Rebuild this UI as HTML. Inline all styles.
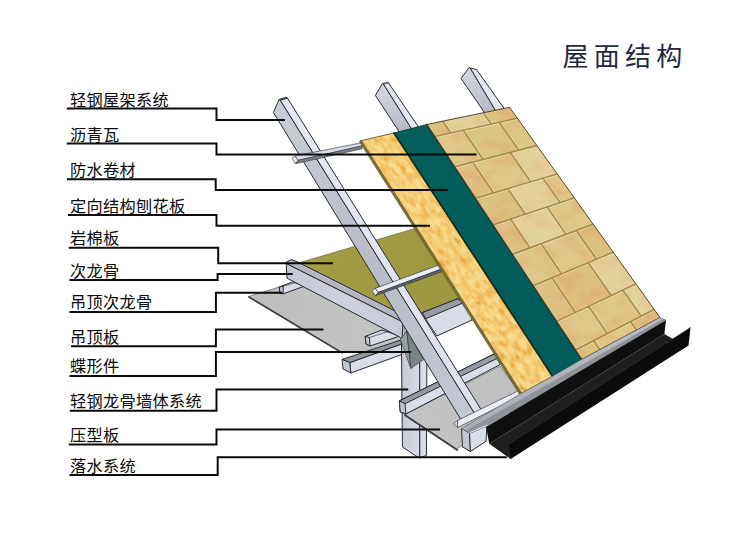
<!DOCTYPE html>
<html lang="zh-CN">
<head>
<meta charset="utf-8">
<title>屋面结构</title>
<style>
html,body{margin:0;padding:0;background:#fff;}
body{width:750px;height:539px;overflow:hidden;font-family:"Liberation Sans",sans-serif;}
svg{display:block;}
</style>
</head>
<body>
<svg width="750" height="539" viewBox="0 0 750 539" role="img" aria-label="屋面结构">
<defs>
<filter id="osbtex" x="0" y="0" width="100%" height="100%" color-interpolation-filters="sRGB">
<feTurbulence type="fractalNoise" baseFrequency="0.2 0.1" numOctaves="3" seed="23" result="n"/>
<feColorMatrix in="n" type="matrix" values="0 0 0 0 0.975  0 0 0 0 0.86  0 0 0 0 0.56  3.0 0 0 0 -1.0" result="lt"/>
<feColorMatrix in="n" type="matrix" values="0 0 0 0 0.90  0 0 0 0 0.62  0 0 0 0 0.20  0 2.8 0 0 -1.4" result="dk"/>
<feMerge result="m"><feMergeNode in="SourceGraphic"/><feMergeNode in="dk"/><feMergeNode in="lt"/></feMerge>
<feComposite in="m" in2="SourceGraphic" operator="in"/>
</filter>
<filter id="stonetex" x="0" y="0" width="100%" height="100%" color-interpolation-filters="sRGB">
<feTurbulence type="fractalNoise" baseFrequency="0.05 0.07" numOctaves="4" seed="5" result="n"/>
<feColorMatrix in="n" type="matrix" values="0 0 0 0 0.88  0 0 0 0 0.64  0 0 0 0 0.42  3.0 0 0 0 -1.3" result="pk"/>
<feColorMatrix in="n" type="matrix" values="0 0 0 0 0.84  0 0 0 0 0.79  0 0 0 0 0.50  0 0 2.4 0 -1.1" result="lt"/>
<feMerge result="m"><feMergeNode in="SourceGraphic"/><feMergeNode in="lt"/><feMergeNode in="pk"/></feMerge>
<feComposite in="m" in2="SourceGraphic" operator="in"/>
</filter>
<linearGradient id="g1" gradientUnits="userSpaceOnUse" x1="250.0" y1="300.0" x2="400.0" y2="330.0"><stop offset="0" stop-color="#bebebe"/><stop offset="1" stop-color="#c4c4c4"/></linearGradient>
<linearGradient id="g2" gradientUnits="userSpaceOnUse" x1="310.0" y1="262.0" x2="440.0" y2="300.0"><stop offset="0" stop-color="#a39c47"/><stop offset="1" stop-color="#9f9843"/></linearGradient>
<linearGradient id="g3" gradientUnits="userSpaceOnUse" x1="402.0" y1="340.0" x2="420.0" y2="340.0"><stop offset="0" stop-color="#c6cad5"/><stop offset="1" stop-color="#d9dce5"/></linearGradient>
<linearGradient id="g4" gradientUnits="userSpaceOnUse" x1="410.0" y1="420.0" x2="510.0" y2="380.0"><stop offset="0" stop-color="#c3c3c3"/><stop offset="1" stop-color="#c0c0c0"/></linearGradient>
<linearGradient id="g5" gradientUnits="userSpaceOnUse" x1="286.0" y1="270.0" x2="402.0" y2="330.0"><stop offset="0" stop-color="#c3c7d3"/><stop offset="0.5" stop-color="#cdd1dc"/><stop offset="1" stop-color="#c6cad6"/></linearGradient>
<linearGradient id="g6" gradientUnits="userSpaceOnUse" x1="273.4" y1="112.4" x2="461.2" y2="420.0"><stop offset="0" stop-color="#c9cdd7"/><stop offset="0.5" stop-color="#b7bcc8"/><stop offset="1" stop-color="#c4c8d3"/></linearGradient>
<linearGradient id="g7" gradientUnits="userSpaceOnUse" x1="287.4" y1="98.0" x2="482.0" y2="411.0"><stop offset="0" stop-color="#e6e9f2"/><stop offset="1" stop-color="#dde0ea"/></linearGradient>
<linearGradient id="g8" gradientUnits="userSpaceOnUse" x1="376.0" y1="90.0" x2="400.0" y2="130.0"><stop offset="0" stop-color="#d3d6df"/><stop offset="1" stop-color="#b8bcc8"/></linearGradient>
<linearGradient id="g9" gradientUnits="userSpaceOnUse" x1="388.0" y1="83.0" x2="418.0" y2="127.0"><stop offset="0" stop-color="#dfe4f0"/><stop offset="1" stop-color="#e8eaf2"/></linearGradient>
<linearGradient id="g10" gradientUnits="userSpaceOnUse" x1="462.0" y1="72.0" x2="485.0" y2="112.0"><stop offset="0" stop-color="#d3d6df"/><stop offset="1" stop-color="#b8bcc8"/></linearGradient>
<linearGradient id="g11" gradientUnits="userSpaceOnUse" x1="476.0" y1="70.0" x2="503.0" y2="108.0"><stop offset="0" stop-color="#dfe4f0"/><stop offset="1" stop-color="#e8eaf2"/></linearGradient>
<clipPath id="osbclip"><polygon points="360.7,140.7 394.0,133.0 552.5,376.3 521.0,393.5"/></clipPath>
<linearGradient id="g12" gradientUnits="userSpaceOnUse" x1="394.0" y1="133.0" x2="552.5" y2="376.3"><stop offset="0" stop-color="#045e5c"/><stop offset="1" stop-color="#025b5a"/></linearGradient>
<clipPath id="shclip"><polygon points="426.5,124.5 509.5,107.3 660.0,317.5 581.5,359.5"/></clipPath>
<linearGradient id="g13" gradientUnits="userSpaceOnUse" x1="470.0" y1="430.0" x2="660.0" y2="320.0"><stop offset="0" stop-color="#a9adb4"/><stop offset="1" stop-color="#b9bdc5"/></linearGradient>
</defs>
<rect width="750" height="539" fill="#ffffff"/>
<g id="illustration" style="filter:blur(0.3px)">
<g id="ceiling-board">
<polygon points="248.8,296.5 300.0,280.5 405.0,325.0 405.0,352.0 342.0,352.3" fill="url(#g1)" stroke="#262a31" stroke-width="0.5" stroke-linejoin="round" />
<line x1="248.8" y1="297.0" x2="342.0" y2="352.9" stroke="#3c3f44" stroke-width="1.6" stroke-linecap="round" />
</g>
<g id="rockwool">
<polygon points="299.0,262.8 415.0,228.5 462.0,297.5 422.4,312.6 405.0,320.0 398.0,316.0" fill="url(#g2)" stroke="#5d5a30" stroke-width="0.6" stroke-linejoin="round" />
</g>
<g id="ceil-keels">
<polygon points="279.2,287.0 292.8,281.8 305.0,286.0 283.2,293.8 280.0,293.0" fill="#d9dde7" stroke="#262a31" stroke-width="1.0" stroke-linejoin="round" />
<polygon points="279.2,287.0 283.2,286.3 283.2,293.8 280.0,293.0" fill="#c2c6d2" stroke="#262a31" stroke-width="1.0" stroke-linejoin="round" />
<line x1="283.2" y1="286.3" x2="297.0" y2="282.0" stroke="#262a31" stroke-width="0.6" stroke-linecap="round" />
<polygon points="365.2,336.4 382.0,330.0 400.0,336.0 370.0,346.0 366.0,344.0" fill="#d9dde7" stroke="#262a31" stroke-width="1.0" stroke-linejoin="round" />
<polygon points="365.2,336.4 369.5,337.5 370.0,346.0 366.0,344.0" fill="#c2c6d2" stroke="#262a31" stroke-width="1.0" stroke-linejoin="round" />
<line x1="369.5" y1="337.5" x2="388.0" y2="331.5" stroke="#262a31" stroke-width="0.6" stroke-linecap="round" />
<polygon points="349.8,362.6 401.5,344.0 401.5,354.6 350.8,373.0" fill="#d9dde7" stroke="#262a31" stroke-width="1.0" stroke-linejoin="round" />
<polygon points="342.0,359.4 401.5,339.8 401.5,344.0 349.8,362.6" fill="#90949b" stroke="#262a31" stroke-width="1.0" stroke-linejoin="round" />
<polygon points="342.0,359.4 349.8,362.6 350.8,373.0 343.0,369.0" fill="#c2c6d2" stroke="#262a31" stroke-width="1.0" stroke-linejoin="round" />
</g>
<g id="wall">
<polygon points="401.4,338.0 419.7,338.0 419.8,458.0 416.0,456.0 402.4,447.0" fill="url(#g3)" stroke="#262a31" stroke-width="1.0" stroke-linejoin="round" />
<polygon points="419.7,338.0 427.0,335.0 426.4,455.4 419.8,458.0" fill="#d9dde7" stroke="#262a31" stroke-width="1.0" stroke-linejoin="round" />
<polygon points="405.0,414.5 500.0,366.0 522.0,395.0 461.9,444.7 457.2,449.4" fill="url(#g4)" stroke="#262a31" stroke-width="0.5" stroke-linejoin="round" />
<line x1="405.0" y1="415.2" x2="457.2" y2="450.0" stroke="#3c3f44" stroke-width="1.7" stroke-linecap="round" />
<polygon points="422.4,312.6 457.6,298.8 472.0,301.0 472.0,320.0 436.8,336.0 425.6,318.8" fill="#d9dde7" stroke="#262a31" stroke-width="1.0" stroke-linejoin="round" />
<polygon points="422.4,312.6 457.6,298.8 464.0,302.5 425.6,318.8" fill="#979ba3" stroke="#262a31" stroke-width="1.0" stroke-linejoin="round" />
<polygon points="399.3,400.9 494.0,354.0 500.4,364.4 405.9,414.0 400.3,412.0" fill="#d9dde7" stroke="#262a31" stroke-width="1.0" stroke-linejoin="round" />
<polygon points="399.3,400.9 494.0,354.0 498.0,358.0 405.0,403.7" fill="#979ba3" stroke="#262a31" stroke-width="1.0" stroke-linejoin="round" />
<polygon points="399.3,400.9 405.0,403.7 405.9,414.0 400.3,412.0" fill="#c2c6d2" stroke="#262a31" stroke-width="1.0" stroke-linejoin="round" />
</g>
<g id="sec-keel">
<polygon points="286.2,263.4 399.8,320.4 403.0,322.0 402.0,339.5 400.0,337.2 287.0,278.2" fill="url(#g5)" stroke="#262a31" stroke-width="1.0" stroke-linejoin="round" />
<polygon points="285.6,262.6 291.2,259.6 296.0,261.2 396.0,311.4 404.0,320.6 399.8,320.4 286.2,263.4" fill="#b2b6be" stroke="#262a31" stroke-width="1.0" stroke-linejoin="round" />
</g>
<g id="rafters">
<polygon points="279.1,99.4 280.2,100.0 475.6,415.0 461.2,420.0 273.4,112.4" fill="url(#g6)" stroke="#262a31" stroke-width="1.0" stroke-linejoin="round" />
<polygon points="280.2,100.0 287.4,98.0 482.0,411.0 475.6,415.0" fill="url(#g7)" stroke="#262a31" stroke-width="1.0" stroke-linejoin="round" />
<polygon points="279.1,99.4 285.5,97.4 287.4,98.0 280.2,100.0" fill="#c2c6d2" stroke="#262a31" stroke-width="1.0" stroke-linejoin="round" />
<polygon points="382.4,83.4 383.4,84.0 413.0,131.0 400.0,133.0 375.4,95.4" fill="url(#g8)" stroke="#262a31" stroke-width="1.0" stroke-linejoin="round" />
<polygon points="383.4,84.0 388.4,82.7 420.5,130.0 413.0,131.0" fill="url(#g9)" stroke="#262a31" stroke-width="1.0" stroke-linejoin="round" />
<polygon points="382.4,83.4 387.4,82.2 388.4,82.7 383.4,84.0" fill="#c2c6d2" stroke="#262a31" stroke-width="0.5" stroke-linejoin="round" />
<polygon points="469.0,67.6 470.2,68.0 497.0,113.0 485.5,114.0 461.0,78.5" fill="url(#g10)" stroke="#262a31" stroke-width="1.0" stroke-linejoin="round" />
<polygon points="470.2,68.0 476.5,69.5 506.0,111.0 497.0,113.0" fill="url(#g11)" stroke="#262a31" stroke-width="1.0" stroke-linejoin="round" />
</g>
<g id="purlins">
<polygon points="294.7,156.0 362.0,142.7 362.0,146.0 298.0,160.3" fill="#d9dde7" stroke="#262a31" stroke-width="0.6" stroke-linejoin="round" />
<polygon points="298.0,160.3 362.0,146.0 362.0,148.8 295.4,163.7" fill="#7d838d" stroke="#262a31" stroke-width="0.6" stroke-linejoin="round" />
<polygon points="292.0,158.4 294.7,156.0 298.0,160.3 295.4,163.7" fill="#eceef5" stroke="#262a31" stroke-width="0.6" stroke-linejoin="round" />
<polygon points="375.1,288.4 445.0,262.8 447.0,267.0 378.1,292.5" fill="#eceef5" stroke="#262a31" stroke-width="0.6" stroke-linejoin="round" />
<polygon points="378.1,292.5 447.0,267.0 448.0,269.5 375.7,295.6" fill="#5d626b" stroke="#262a31" stroke-width="0.6" stroke-linejoin="round" />
<polygon points="372.1,291.0 375.1,288.4 378.1,292.5 375.7,295.6" fill="#eceef5" stroke="#262a31" stroke-width="0.6" stroke-linejoin="round" />
<polygon points="457.6,420.4 522.0,389.0 524.0,394.0 457.6,427.6" fill="#eceef5" stroke="#262a31" stroke-width="0.6" stroke-linejoin="round" />
<polygon points="453.6,423.6 457.6,420.4 457.6,427.6" fill="#d9dde7" stroke="#262a31" stroke-width="0.6" stroke-linejoin="round" />
</g>
<g id="fascia">
<polygon points="461.6,428.4 469.6,433.2 470.4,451.6 462.4,446.8" fill="#c2c6d2" stroke="#262a31" stroke-width="1.0" stroke-linejoin="round" />
<polygon points="469.6,433.2 487.0,425.5 486.0,441.2 470.4,451.6" fill="#d9dde7" stroke="#262a31" stroke-width="1.0" stroke-linejoin="round" />
</g>
<g id="roof">
<g clip-path="url(#osbclip)"><rect x="-60" y="-340" width="120" height="680" transform="translate(455,262) rotate(-33)" fill="#f0c062" filter="url(#osbtex)"/></g>
<polygon points="360.7,140.7 394.0,133.0 552.5,376.3 521.0,393.5" fill="none" stroke="#6b5a22" stroke-width="0.9" stroke-linejoin="round" />
<polygon points="359.3,141.6 519.6,394.4 521.6,393.1 361.3,140.3" fill="#80702f" stroke="#4f451c" stroke-width="0.5" stroke-linejoin="round" />
<polygon points="394.0,133.0 426.5,124.5 581.5,359.5 552.5,376.3" fill="url(#g12)" stroke="#083833" stroke-width="0.8" stroke-linejoin="round" />
<g clip-path="url(#shclip)">
<rect x="420" y="100" width="250" height="265" fill="#dfc689" filter="url(#stonetex)"/>
<polygon points="426.5,124.5 442.8,121.1 450.8,132.9 434.4,136.6" fill="#ddbd79" fill-opacity="0.6"/>
<polygon points="442.8,121.1 483.3,112.7 491.2,124.0 450.8,132.9" fill="#e6d8a6" fill-opacity="0.6"/>
<polygon points="483.3,112.7 509.5,107.3 517.3,118.2 491.2,124.0" fill="#ddbd79" fill-opacity="0.6"/>
<polygon points="434.4,136.6 463.2,130.2 483.0,159.4 454.4,166.8" fill="#dfc88c" fill-opacity="0.6"/>
<polygon points="463.2,130.2 499.1,122.2 518.8,150.2 483.0,159.4" fill="#d9c484" fill-opacity="0.6"/>
<polygon points="499.1,122.2 517.3,118.2 536.9,145.5 518.8,150.2" fill="#dfc88c" fill-opacity="0.6"/>
<polygon points="454.4,166.8 472.7,162.1 493.5,192.9 475.2,198.4" fill="#e0ba82" fill-opacity="0.6"/>
<polygon points="472.7,162.1 510.2,152.4 530.8,181.8 493.5,192.9" fill="#dfc88c" fill-opacity="0.6"/>
<polygon points="510.2,152.4 536.9,145.5 557.2,173.9 530.8,181.8" fill="#e6d8a6" fill-opacity="0.6"/>
<polygon points="475.2,198.4 507.8,188.6 525.3,214.2 492.8,225.0" fill="#ddbd79" fill-opacity="0.6"/>
<polygon points="507.8,188.6 542.9,178.2 560.1,202.6 525.3,214.2" fill="#e6d8a6" fill-opacity="0.6"/>
<polygon points="542.9,178.2 557.2,173.9 574.3,197.8 560.1,202.6" fill="#dfc88c" fill-opacity="0.6"/>
<polygon points="492.8,225.0 510.7,219.1 530.0,247.8 512.2,254.5" fill="#e0ba82" fill-opacity="0.6"/>
<polygon points="510.7,219.1 547.1,206.9 566.1,234.3 530.0,247.8" fill="#e6d8a6" fill-opacity="0.6"/>
<polygon points="547.1,206.9 574.3,197.8 593.2,224.2 566.1,234.3" fill="#dfc88c" fill-opacity="0.6"/>
<polygon points="512.2,254.5 541.2,243.6 561.7,273.8 532.9,285.9" fill="#dfc88c" fill-opacity="0.6"/>
<polygon points="541.2,243.6 576.4,230.5 596.6,259.2 561.7,273.8" fill="#dfc88c" fill-opacity="0.6"/>
<polygon points="576.4,230.5 593.2,224.2 613.2,252.2 596.6,259.2" fill="#ddbd79" fill-opacity="0.6"/>
<polygon points="532.9,285.9 552.2,277.8 575.4,312.4 556.4,321.5" fill="#e0ba82" fill-opacity="0.6"/>
<polygon points="552.2,277.8 588.3,262.6 611.2,295.5 575.4,312.4" fill="#ddbd79" fill-opacity="0.6"/>
<polygon points="588.3,262.6 613.2,252.2 635.9,283.8 611.2,295.5" fill="#e6d8a6" fill-opacity="0.6"/>
<polygon points="556.4,321.5 588.6,306.2 607.3,333.6 575.4,350.2" fill="#dfc88c" fill-opacity="0.6"/>
<polygon points="588.6,306.2 622.8,290.0 641.2,316.0 607.3,333.6" fill="#dfc88c" fill-opacity="0.6"/>
<polygon points="622.8,290.0 635.9,283.8 654.1,309.3 641.2,316.0" fill="#e6d8a6" fill-opacity="0.6"/>
<polygon points="575.4,350.2 593.8,340.6 599.9,349.6 581.5,359.5" fill="#ddbd79" fill-opacity="0.6"/>
<polygon points="593.8,340.6 630.6,321.5 636.6,330.0 599.9,349.6" fill="#dfc88c" fill-opacity="0.6"/>
<polygon points="630.6,321.5 654.1,309.3 660.0,317.5 636.6,330.0" fill="#e0ba82" fill-opacity="0.6"/>
<path d="M434.8,137.9L517.7,119.5 M454.8,168.1L537.3,146.8 M475.6,199.7L557.6,175.2 M493.2,226.3L574.7,199.1 M512.6,255.8L593.6,225.5 M533.3,287.2L613.6,253.5 M556.8,322.8L636.3,285.1 M575.8,351.5L654.5,310.6 M444.1,121.4L452.1,132.6 M484.6,113.0L492.5,123.7 M464.5,130.5L484.3,159.1 M500.4,122.5L520.1,149.9 M474.0,162.4L494.8,192.6 M511.5,152.7L532.1,181.5 M509.1,188.9L526.6,213.9 M544.2,178.5L561.4,202.3 M512.0,219.4L531.3,247.5 M548.4,207.2L567.4,234.0 M542.5,243.9L563.0,273.5 M577.7,230.8L597.9,258.9 M553.5,278.1L576.7,312.1 M589.6,262.9L612.5,295.2 M589.9,306.5L608.6,333.3 M624.1,290.3L642.5,315.7 M595.1,340.9L601.2,349.3 M631.9,321.8L637.9,329.7" stroke="#f1e4b8" stroke-width="1.0" fill="none" opacity="0.55"/>
<path d="M434.4,136.6L517.3,118.2 M454.4,166.8L536.9,145.5 M475.2,198.4L557.2,173.9 M492.8,225.0L574.3,197.8 M512.2,254.5L593.2,224.2 M532.9,285.9L613.2,252.2 M556.4,321.5L635.9,283.8 M575.4,350.2L654.1,309.3 M442.8,121.1L450.8,132.9 M483.3,112.7L491.2,124.0 M463.2,130.2L483.0,159.4 M499.1,122.2L518.8,150.2 M472.7,162.1L493.5,192.9 M510.2,152.4L530.8,181.8 M507.8,188.6L525.3,214.2 M542.9,178.2L560.1,202.6 M510.7,219.1L530.0,247.8 M547.1,206.9L566.1,234.3 M541.2,243.6L561.7,273.8 M576.4,230.5L596.6,259.2 M552.2,277.8L575.4,312.4 M588.3,262.6L611.2,295.5 M588.6,306.2L607.3,333.6 M622.8,290.0L641.2,316.0 M593.8,340.6L599.9,349.6 M630.6,321.5L636.6,330.0" stroke="#8f7838" stroke-width="1.35" fill="none" stroke-linecap="round" opacity="0.8"/>
</g>
<polygon points="426.5,124.5 509.5,107.3 660.0,317.5 581.5,359.5" fill="none" stroke="#3f3a26" stroke-width="0.9" stroke-linejoin="round" />
<line x1="394.0" y1="133.0" x2="552.5" y2="376.3" stroke="#06302c" stroke-width="1.7" stroke-linecap="round" />
<line x1="426.5" y1="124.5" x2="581.5" y2="359.5" stroke="#3b3a22" stroke-width="1.5" stroke-linecap="round" />
</g>
<g id="gutter">
<polygon points="461.6,428.4 521.0,393.5 552.5,376.3 581.5,359.5 660.0,317.5 666.0,320.2 486.4,426.3 469.6,433.2" fill="url(#g13)" stroke="#4c4f55" stroke-width="0.5" stroke-linejoin="round" />
<polygon points="465.6,430.8 663.0,318.9 666.0,320.2 486.4,426.3 469.6,433.2" fill="#8e9299" stroke="none" />
<line x1="470.0" y1="432.6" x2="487.0" y2="425.3" stroke="#e8ebf2" stroke-width="1.0" stroke-linecap="round" />
<polygon points="486.1,427.0 666.0,320.3 664.4,333.9 489.2,443.8" fill="#0f0f0f" stroke="none" />
<polygon points="489.2,443.8 664.4,333.9 673.0,339.0 510.6,459.0" fill="#1f1f1f" stroke="none" />
<polygon points="509.0,443.8 690.5,327.5 688.5,345.5 510.6,459.0" fill="#0b0b0b" stroke="none" />
<line x1="509.3" y1="443.8" x2="690.3" y2="327.7" stroke="#303030" stroke-width="0.8" stroke-linecap="round" />
</g>
<g id="butterfly">
<polygon points="406.8,330.8 400.4,339.6 410.8,368.4" fill="#96a09d" stroke="#262a31" stroke-width="0.6" stroke-linejoin="round" />
<polygon points="406.8,330.8 410.8,368.4 423.6,359.6" fill="#7a8583" stroke="#262a31" stroke-width="0.6" stroke-linejoin="round" />
</g>
</g>
<g id="labels">
<path d="M66.8,108.4H216.5V120.1H285 M66.8,143.5H216.5V154.4H476.5 M67,179.3H215.7V189.9H447.7 M68,215.0H216.5V225.8H430 M68.8,247.7H218.2V263.3H333 M69.5,279.9H217.6V274.1H292.8 M69.5,311.9H215.9V292.8H282.5 M71,346.3H215.9V329.4H323.5 M69.5,375.9H215.9V352.0H411.3 M69.8,410.8H216.5V389.4H408.2 M68.8,444.6H216.5V429.4H440 M69.5,475.1H217.7V457.2H506.8" fill="none" stroke="#0a0a0a" stroke-width="2.0" stroke-linejoin="miter"/>
<g font-family="&quot;Liberation Sans&quot;, &quot;Noto Sans CJK SC&quot;, sans-serif" font-size="16.2" fill="#0a0a0a" stroke="none"><text x="70" y="105.5" textLength="98.7" lengthAdjust="spacing">轻钢屋架系统</text><text x="70" y="140.7" textLength="49.3" lengthAdjust="spacing">沥青瓦</text><text x="70" y="176.0" textLength="65.8" lengthAdjust="spacing">防水卷材</text><text x="70" y="211.9" textLength="115.1" lengthAdjust="spacing">定向结构刨花板</text><text x="70" y="243.9" textLength="49.3" lengthAdjust="spacing">岩棉板</text><text x="70" y="276.6" textLength="49.3" lengthAdjust="spacing">次龙骨</text><text x="70" y="308.4" textLength="82.2" lengthAdjust="spacing">吊顶次龙骨</text><text x="70" y="342.7" textLength="49.3" lengthAdjust="spacing">吊顶板</text><text x="70" y="371.9" textLength="49.3" lengthAdjust="spacing">蝶形件</text><text x="70" y="407.1" textLength="131.6" lengthAdjust="spacing">轻钢龙骨墙体系统</text><text x="70" y="440.7" textLength="49.3" lengthAdjust="spacing">压型板</text><text x="70" y="471.5" textLength="65.8" lengthAdjust="spacing">落水系统</text><text x="562.6" y="65.7" font-size="26" fill="#1f2746" textLength="119.6" lengthAdjust="spacing">屋面结构</text></g>
</g>
</svg>
</body>
</html>
